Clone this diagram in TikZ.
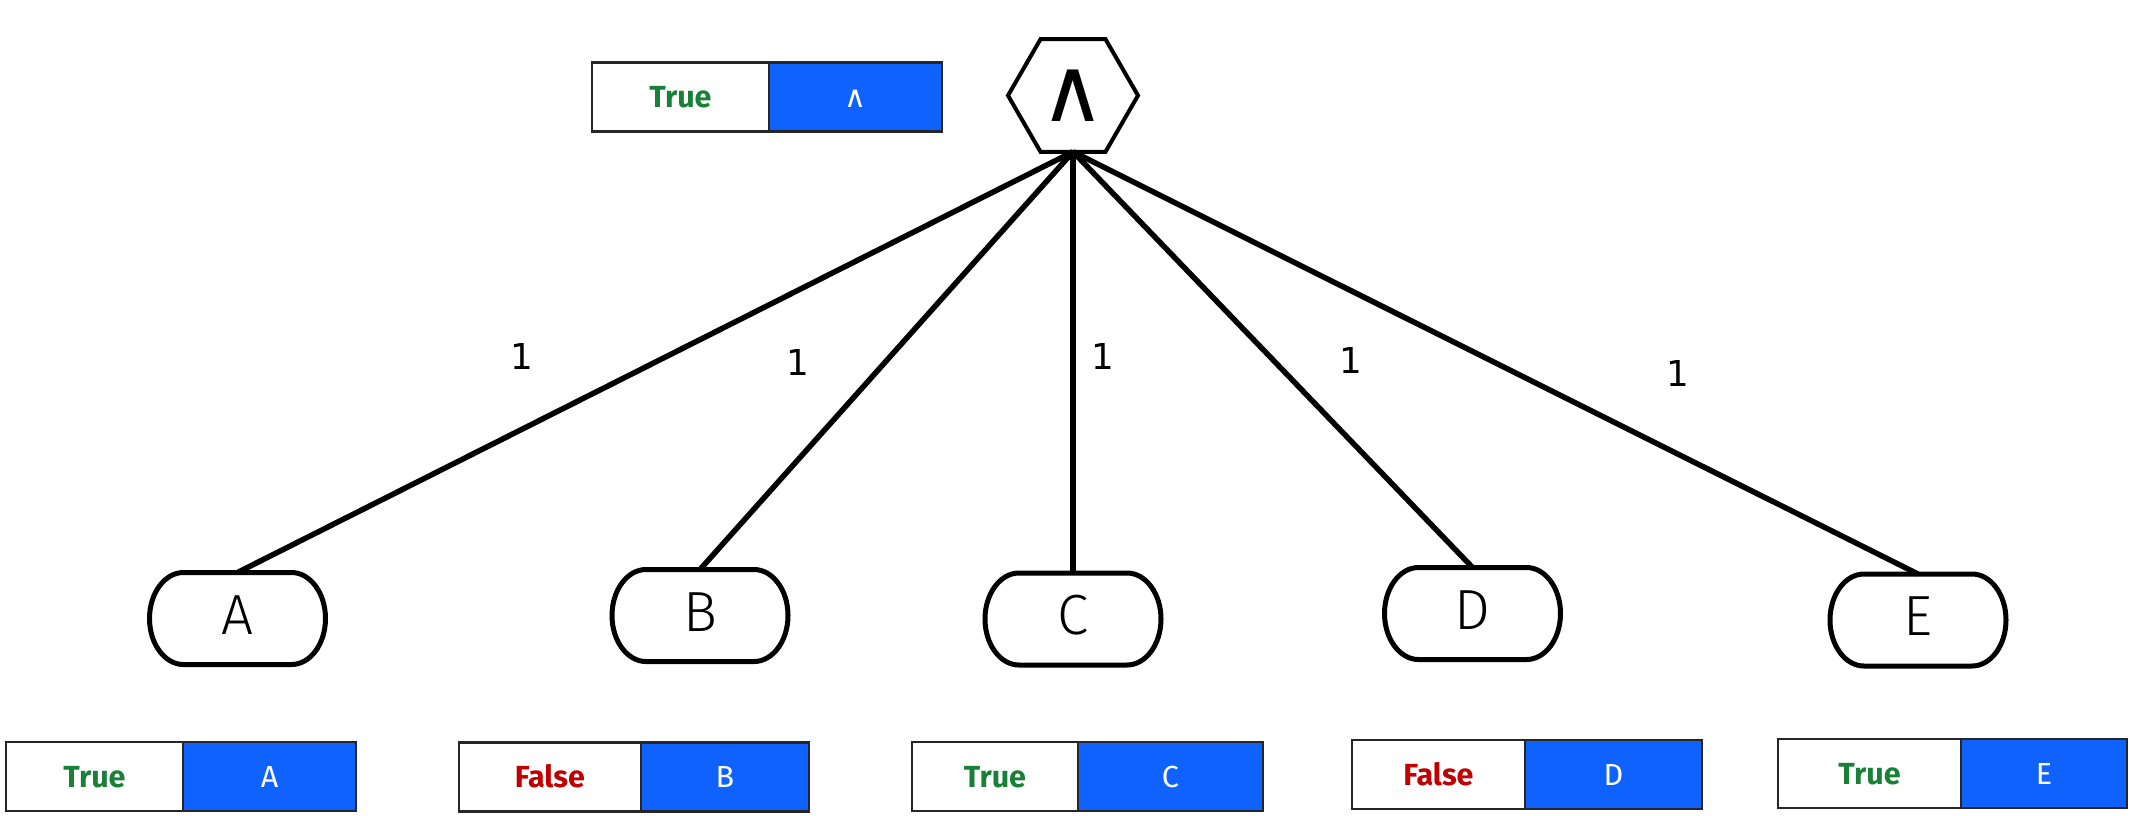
\documentclass[tikz,border=0pt]{standalone}
\usepackage{fontspec}
\usetikzlibrary{shapes.geometric}
\newfontfamily\lightfont{Fira Sans Light}
\newfontfamily\firafont{Fira Sans}
\newfontfamily\firabold{Fira Sans Bold}
\newfontfamily\symfont{DejaVu Sans}
\IfFontExistsTF{DejaVu Sans ExtraLight}{\newfontfamily\thinsym{DejaVu Sans ExtraLight}}{\newfontfamily\thinsym{DejaVu Sans}}
\definecolor{ibmblue}{HTML}{0F62FE}
\definecolor{truegreen}{HTML}{198038}
\definecolor{falsered}{HTML}{C00000}
\newcommand\andsign{{\thinsym\iffontchar\font"2227 ∧\else{\symfont ∧}\fi}}
\newcommand\leafoutline[1]{%
  \draw[leafline] ([xshift=34pt]#1.north west) -- ([xshift=-34pt]#1.north east)
    arc[start angle=90, end angle=-90, x radius=34pt, y radius=46pt]
    -- ([xshift=34pt]#1.south west)
    arc[start angle=270, end angle=90, x radius=34pt, y radius=46pt] -- cycle;}
\begin{document}
\begin{tikzpicture}[x=1pt,y=-1pt,
  leafline/.style={line width=5pt, draw=black},
  leaf/.style={minimum width=176pt, minimum height=92pt, inner sep=0pt, outer sep=0pt,
    font=\lightfont\fontsize{56.6}{60}\selectfont, text height=39pt, text depth=8pt},
  conn/.style={line width=5.5pt, draw=black},
  valcell/.style={draw=black!85, line width=2.5pt, fill=white, inner sep=0pt, outer sep=0pt,
    minimum height=69pt, anchor=west, text height=21pt, text depth=0pt,
    font=\firabold\fontsize{30.5}{36}\selectfont},
  namecell/.style={draw=black!85, line width=2.5pt, fill=ibmblue, text=white, inner sep=0pt, outer sep=0pt,
    minimum height=69pt, anchor=west, text height=21pt, text depth=0pt,
    font=\firafont\fontsize{30.5}{36}\selectfont},
  weight/.style={font=\symfont\fontsize{35.7}{40}\selectfont, text height=26pt, text depth=0pt, inner sep=0pt},
  opnode/.style={regular polygon, regular polygon sides=6, minimum size=130pt, draw=black,
    line width=4pt, inner sep=0pt, outer sep=0pt,
    font=\fontsize{89}{96}\selectfont}
]
\useasboundingbox (0,0) rectangle (2131,815);
\fill[white] (0,0) rectangle (2131,815);

% operator
\node[opnode] (op) at (1073,95.5) {\andsign};

% top value box
\node[valcell, minimum width=177pt] (vtop) at (592,97) {\textcolor{truegreen}{True}};
\node[namecell, minimum width=173pt] (ntop) at (vtop.east) {\fontsize{30}{34}\selectfont\andsign};

% leaves
\node[leaf] (A) at (237.5,618.5) {A};
\node[leaf] (B) at (700,615.5) {B};
\node[leaf] (C) at (1073,619) {C};
\node[leaf] (D) at (1472.5,613.5) {D};
\node[leaf] (E) at (1918,620) {E};
\leafoutline{A}
\leafoutline{B}
\leafoutline{C}
\leafoutline{D}
\leafoutline{E}

% connectors
\draw[conn] (op.south) -- (A.north);
\draw[conn] (op.south) -- (B.north);
\draw[conn] (op.south) -- (C.north);
\draw[conn] (op.south) -- (D.north);
\draw[conn] (op.south) -- (E.north);

% weights
\node[weight] (wA) at (522,356) {1};
\node[weight] (wB) at (798,362) {1};
\node[weight] (wC) at (1103,356) {1};
\node[weight] (wD) at (1351,360) {1};
\node[weight] (wE) at (1678,373) {1};

% value boxes
\node[valcell, minimum width=177pt] (vA) at (6,776.5) {\textcolor{truegreen}{True}};
\node[namecell, minimum width=173pt] (nA) at (vA.east) {A};
\node[valcell, minimum width=182pt] (vB) at (459,777) {\textcolor{falsered}{False}};
\node[namecell, minimum width=168pt] (nB) at (vB.east) {B};
\node[valcell, minimum width=166pt] (vC) at (912,776.5) {\textcolor{truegreen}{True}};
\node[namecell, minimum width=185pt] (nC) at (vC.east) {C};
\node[valcell, minimum width=173pt] (vD) at (1352,774.5) {\textcolor{falsered}{False}};
\node[namecell, minimum width=177pt] (nD) at (vD.east) {D};
\node[valcell, minimum width=183pt] (vE) at (1778,773.5) {\textcolor{truegreen}{True}};
\node[namecell, minimum width=166pt] (nE) at (vE.east) {E};
\end{tikzpicture}
\end{document}
